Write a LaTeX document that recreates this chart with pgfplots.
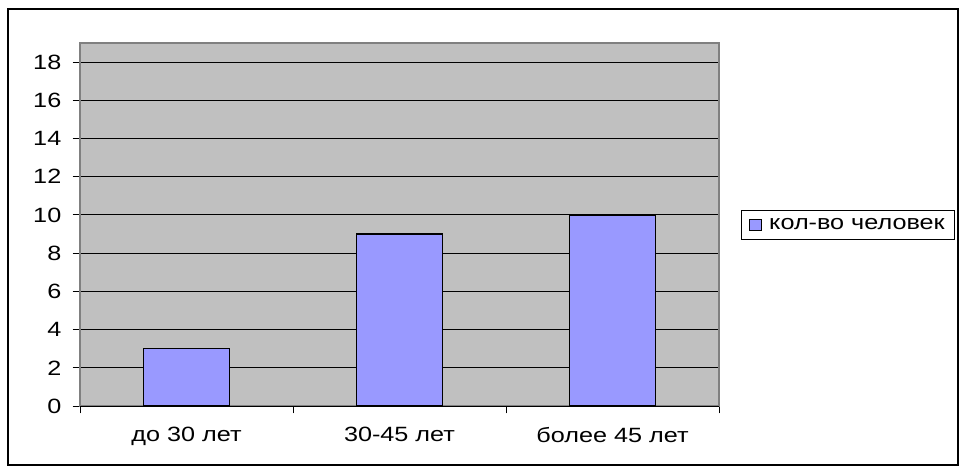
\documentclass[border=0pt]{standalone}
\usepackage{fontspec}
\setmainfont{Liberation Sans}[FakeStretch=1.22]
\usepackage{pgfplots}
\pgfplotsset{compat=1.18}
\definecolor{barblue}{RGB}{153,153,255}
\definecolor{plotgray}{RGB}{192,192,192}
\definecolor{framegray}{RGB}{128,128,128}
\newcommand{\chartfont}{\fontsize{15.5}{18}\selectfont}
\begin{document}
\begin{tikzpicture}
\useasboundingbox (0,0) rectangle (720pt,-352.5pt);
\draw[line width=1.5pt] (6pt,-6.75pt) rectangle (718.5pt,-348.75pt);
\begin{axis}[
    at={(60pt,-304.5pt)}, anchor=south west,
    scale only axis,
    width=479.25pt, height=272.25pt,
    xmin=-0.5, xmax=2.5,
    ymin=0, ymax=19,
    ytick={0,2,...,18},
    xtick={-0.5,0.5,1.5,2.5},
    xticklabels={до 30 лет,30-45 лет,более 45 лет},
    x tick label as interval,
    axis background/.style={fill=plotgray},
    axis line style={framegray, line width=1pt},
    ymajorgrids,
    grid style={black, line width=0.75pt},
    tick style={black, line width=0.75pt},
    tick align=outside,
    major tick length=5.5pt,
    xtick pos=bottom, ytick pos=left,
    tick label style={font=\chartfont},
    /pgf/number format/assume math mode=true,
    yticklabel style={xshift=-5pt},
    xticklabel style={yshift=-7pt},
    ybar, bar width=64.5pt,
    legend style={at={(1.0344,0.4986)}, anchor=west, draw=black, line width=0.75pt,
        font=\chartfont, inner xsep=5.5pt, inner ysep=4pt},
    legend image code/.code={\draw[#1, line width=0.6pt] (0pt,-4.4pt) rectangle (8.8pt,4.4pt);
        \path[draw=none, fill=none] (0pt,0pt) rectangle (13pt,0.1pt);},
]
\addplot[fill=barblue, draw=black, line width=1.2pt] coordinates {(0,3) (1,9) (2,10)};
\addlegendentry{кол-во человек}
\draw[black, line width=0.75pt] (rel axis cs:0,0) -- (rel axis cs:1,0);
\end{axis}
\end{tikzpicture}
\end{document}
